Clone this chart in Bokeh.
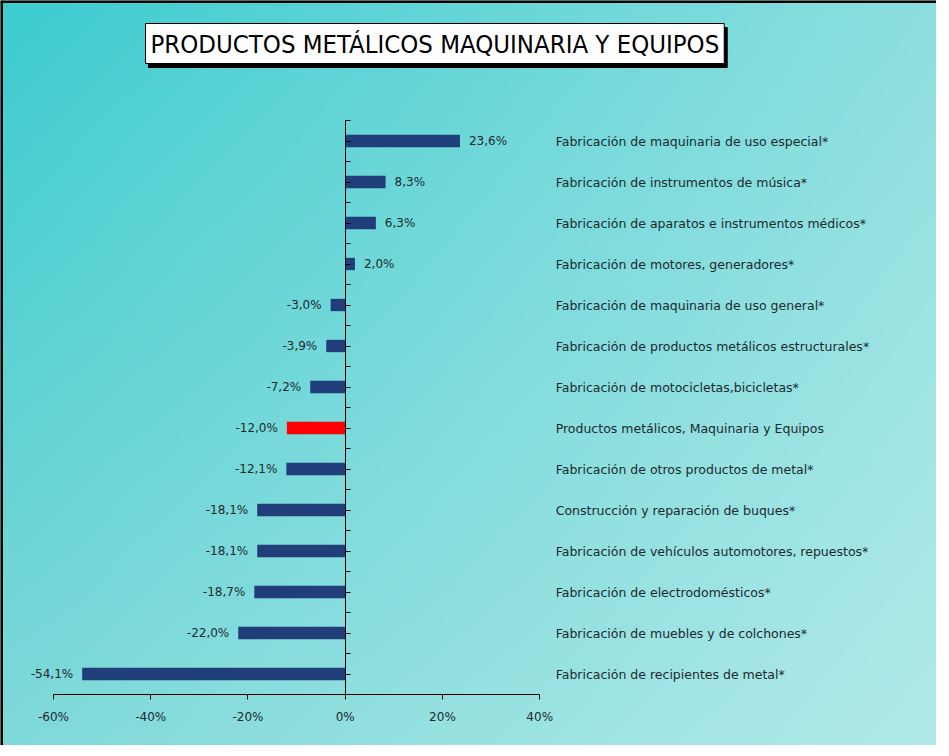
import numpy as np
from bokeh.plotting import figure
from bokeh.models import Range1d, FixedTicker, LinearAxis, Label, ColumnDataSource, Span
from bokeh.embed import file_html
from bokeh.resources import INLINE
from bokeh.core.properties import value

# ---------------- data ----------------
title_text = "PRODUCTOS METÁLICOS MAQUINARIA Y EQUIPOS"
categories = [
    "Fabricación de maquinaria de uso especial*",
    "Fabricación de instrumentos de música*",
    "Fabricación de aparatos e instrumentos médicos*",
    "Fabricación de motores, generadores*",
    "Fabricación de maquinaria de uso general*",
    "Fabricación de productos metálicos estructurales*",
    "Fabricación de motocicletas,bicicletas*",
    "Productos metálicos, Maquinaria y Equipos",
    "Fabricación de otros productos de metal*",
    "Construcción y reparación de buques*",
    "Fabricación de vehículos automotores, repuestos*",
    "Fabricación de electrodomésticos*",
    "Fabricación de muebles y de colchones*",
    "Fabricación de recipientes de metal*",
]
values = [23.6, 8.3, 6.3, 2.0, -3.0, -3.9, -7.2, -12.0, -12.1, -18.1, -18.1, -18.7, -22.0, -54.1]
highlight = "Productos metálicos, Maquinaria y Equipos"
x_ticks = [-60, -40, -20, 0, 20, 40]
x_tick_labels = ["-60%", "-40%", "-20%", "0%", "20%", "40%"]

# ---------------- layout / style ----------------
W, H = 936, 745
n = len(categories)
px_x = 4.862         # pixels per percentage point
x0_px = 53           # canvas x of the axis minimum
px_y = 41            # pixels per category
top_px = 120         # canvas y of the top of the category axis

x_min, x_max = x_ticks[0], x_ticks[-1]
x_start = x_min - x0_px / px_x
x_end = x_start + W / px_x
y_end = (n - 0.5) + top_px / px_y
y_start = y_end - H / px_y

BAR = "#203F7A"
RED = "#FF0000"
TXT = "#1c2a30"
FONT = "DejaVu Sans"

pos = [n - 1 - i for i in range(n)]
colors = [RED if c == highlight else BAR for c in categories]
labels = [("%.1f" % v).replace(".", ",") + "%" for v in values]

src = ColumnDataSource(dict(pos=pos, value=values, color=colors, label=labels))
pos_src = ColumnDataSource(dict(
    pos=[p_ for p_, v in zip(pos, values) if v >= 0],
    value=[v for v in values if v >= 0],
    label=[l for l, v in zip(labels, values) if v >= 0]))
neg_src = ColumnDataSource(dict(
    pos=[p_ for p_, v in zip(pos, values) if v < 0],
    value=[v for v in values if v < 0],
    label=[l for l, v in zip(labels, values) if v < 0]))

p = figure(width=W, height=H, x_range=Range1d(x_start, x_end), y_range=Range1d(y_start, y_end),
           output_backend="svg", toolbar_location=None, min_border=0,
           x_axis_type=None, y_axis_type=None)
p.grid.visible = False
p.outline_line_color = None
p.background_fill_color = "#7fdada"
p.border_fill_color = "#7fdada"

# gradient background (style only): bilinear between four corner colours
gh, gw = 250, 312
v_ = np.linspace(0, 1, gh)[:, None, None]   # 0 bottom -> 1 top
u_ = np.linspace(0, 1, gw)[None, :, None]   # 0 left -> 1 right
TL = np.array([0x3C, 0xCC, 0xCF], dtype=float)
TR = np.array([0x8E, 0xDF, 0xDF], dtype=float)
BL = np.array([0x80, 0xD9, 0xD9], dtype=float)
BR = np.array([0xB2, 0xEA, 0xEA], dtype=float)
rgb = (TL * (1 - u_) * v_ + TR * u_ * v_ + BL * (1 - u_) * (1 - v_) + BR * u_ * (1 - v_))
img = np.empty((gh, gw), dtype=np.uint32)
view = img.view(dtype=np.uint8).reshape((gh, gw, 4))
view[:, :, 0] = rgb[:, :, 0].astype(np.uint8)
view[:, :, 1] = rgb[:, :, 1].astype(np.uint8)
view[:, :, 2] = rgb[:, :, 2].astype(np.uint8)
view[:, :, 3] = 255
p.image_rgba(image=[img], x=x_start, y=y_start, dw=x_end - x_start, dh=y_end - y_start)

# left and top border lines
p.add_layout(Span(location=x_start, dimension="height", line_color="black", line_width=5))
p.add_layout(Span(location=y_end, dimension="width", line_color="black", line_width=5))

# bars
p.hbar(y="pos", left=0, right="value", height=0.3, color="color", line_color=None, source=src)

# value labels
p.text(x="value", y="pos", text="label", source=pos_src, x_offset=9, text_align="left",
       text_baseline="middle", text_font=value(FONT), text_font_size="12px", text_color=TXT)
p.text(x="value", y="pos", text="label", source=neg_src, x_offset=-9, text_align="right",
       text_baseline="middle", text_font=value(FONT), text_font_size="12px", text_color=TXT)

# x axis (crossing at bottom of category axis)
xaxis = LinearAxis(fixed_location=-0.5, bounds=(x_min, x_max),
                   ticker=FixedTicker(ticks=x_ticks),
                   major_label_overrides={t_: l_ for t_, l_ in zip(x_ticks, x_tick_labels)},
                   major_tick_out=5, major_tick_in=0, minor_tick_line_color=None,
                   axis_line_color="black", major_tick_line_color="black",
                   major_label_text_font=FONT, major_label_text_font_size="12px",
                   major_label_text_color=TXT, major_label_standoff=10)
p.add_layout(xaxis, "below")

# y axis at zero
half_ticks = [k * 0.5 - 0.5 for k in range(2 * n + 1)]
yaxis = LinearAxis(fixed_location=0, bounds=(-0.5, n - 0.5),
                   ticker=FixedTicker(ticks=half_ticks),
                   major_tick_in=5, major_tick_out=0, minor_tick_line_color=None,
                   axis_line_color="black", major_tick_line_color="black",
                   major_label_text_color=None)
p.add_layout(yaxis, "left")

# category labels axis to the right of the plot area
cat_axis = LinearAxis(fixed_location=x_max, bounds=(-0.5, n - 0.5),
                      ticker=FixedTicker(ticks=pos),
                      major_label_overrides={p_: c for p_, c in zip(pos, categories)},
                      axis_line_color=None, major_tick_line_color=None, minor_tick_line_color=None,
                      major_label_text_font=FONT, major_label_text_font_size="12.5px",
                      major_label_text_color=TXT, major_label_standoff=10)
p.add_layout(cat_axis, "right")

# title box with shadow
title_font = "'DejaVu Sans Condensed', 'Liberation Sans Narrow', sans-serif"
for dx, dy, fg, bg in [(3, -4, "black", "black"), (0, 0, "black", "white")]:
    p.add_layout(Label(x=145 + dx, y=H - 43 + dy, x_units="screen", y_units="screen",
                       text=title_text, text_font=title_font, text_font_size="25.5px",
                       text_color=fg, text_align="left", text_baseline="middle",
                       background_fill_color=bg, border_line_color="black", border_line_width=1,
                       padding=5))

open("out.html", "w").write(file_html(p, INLINE))
